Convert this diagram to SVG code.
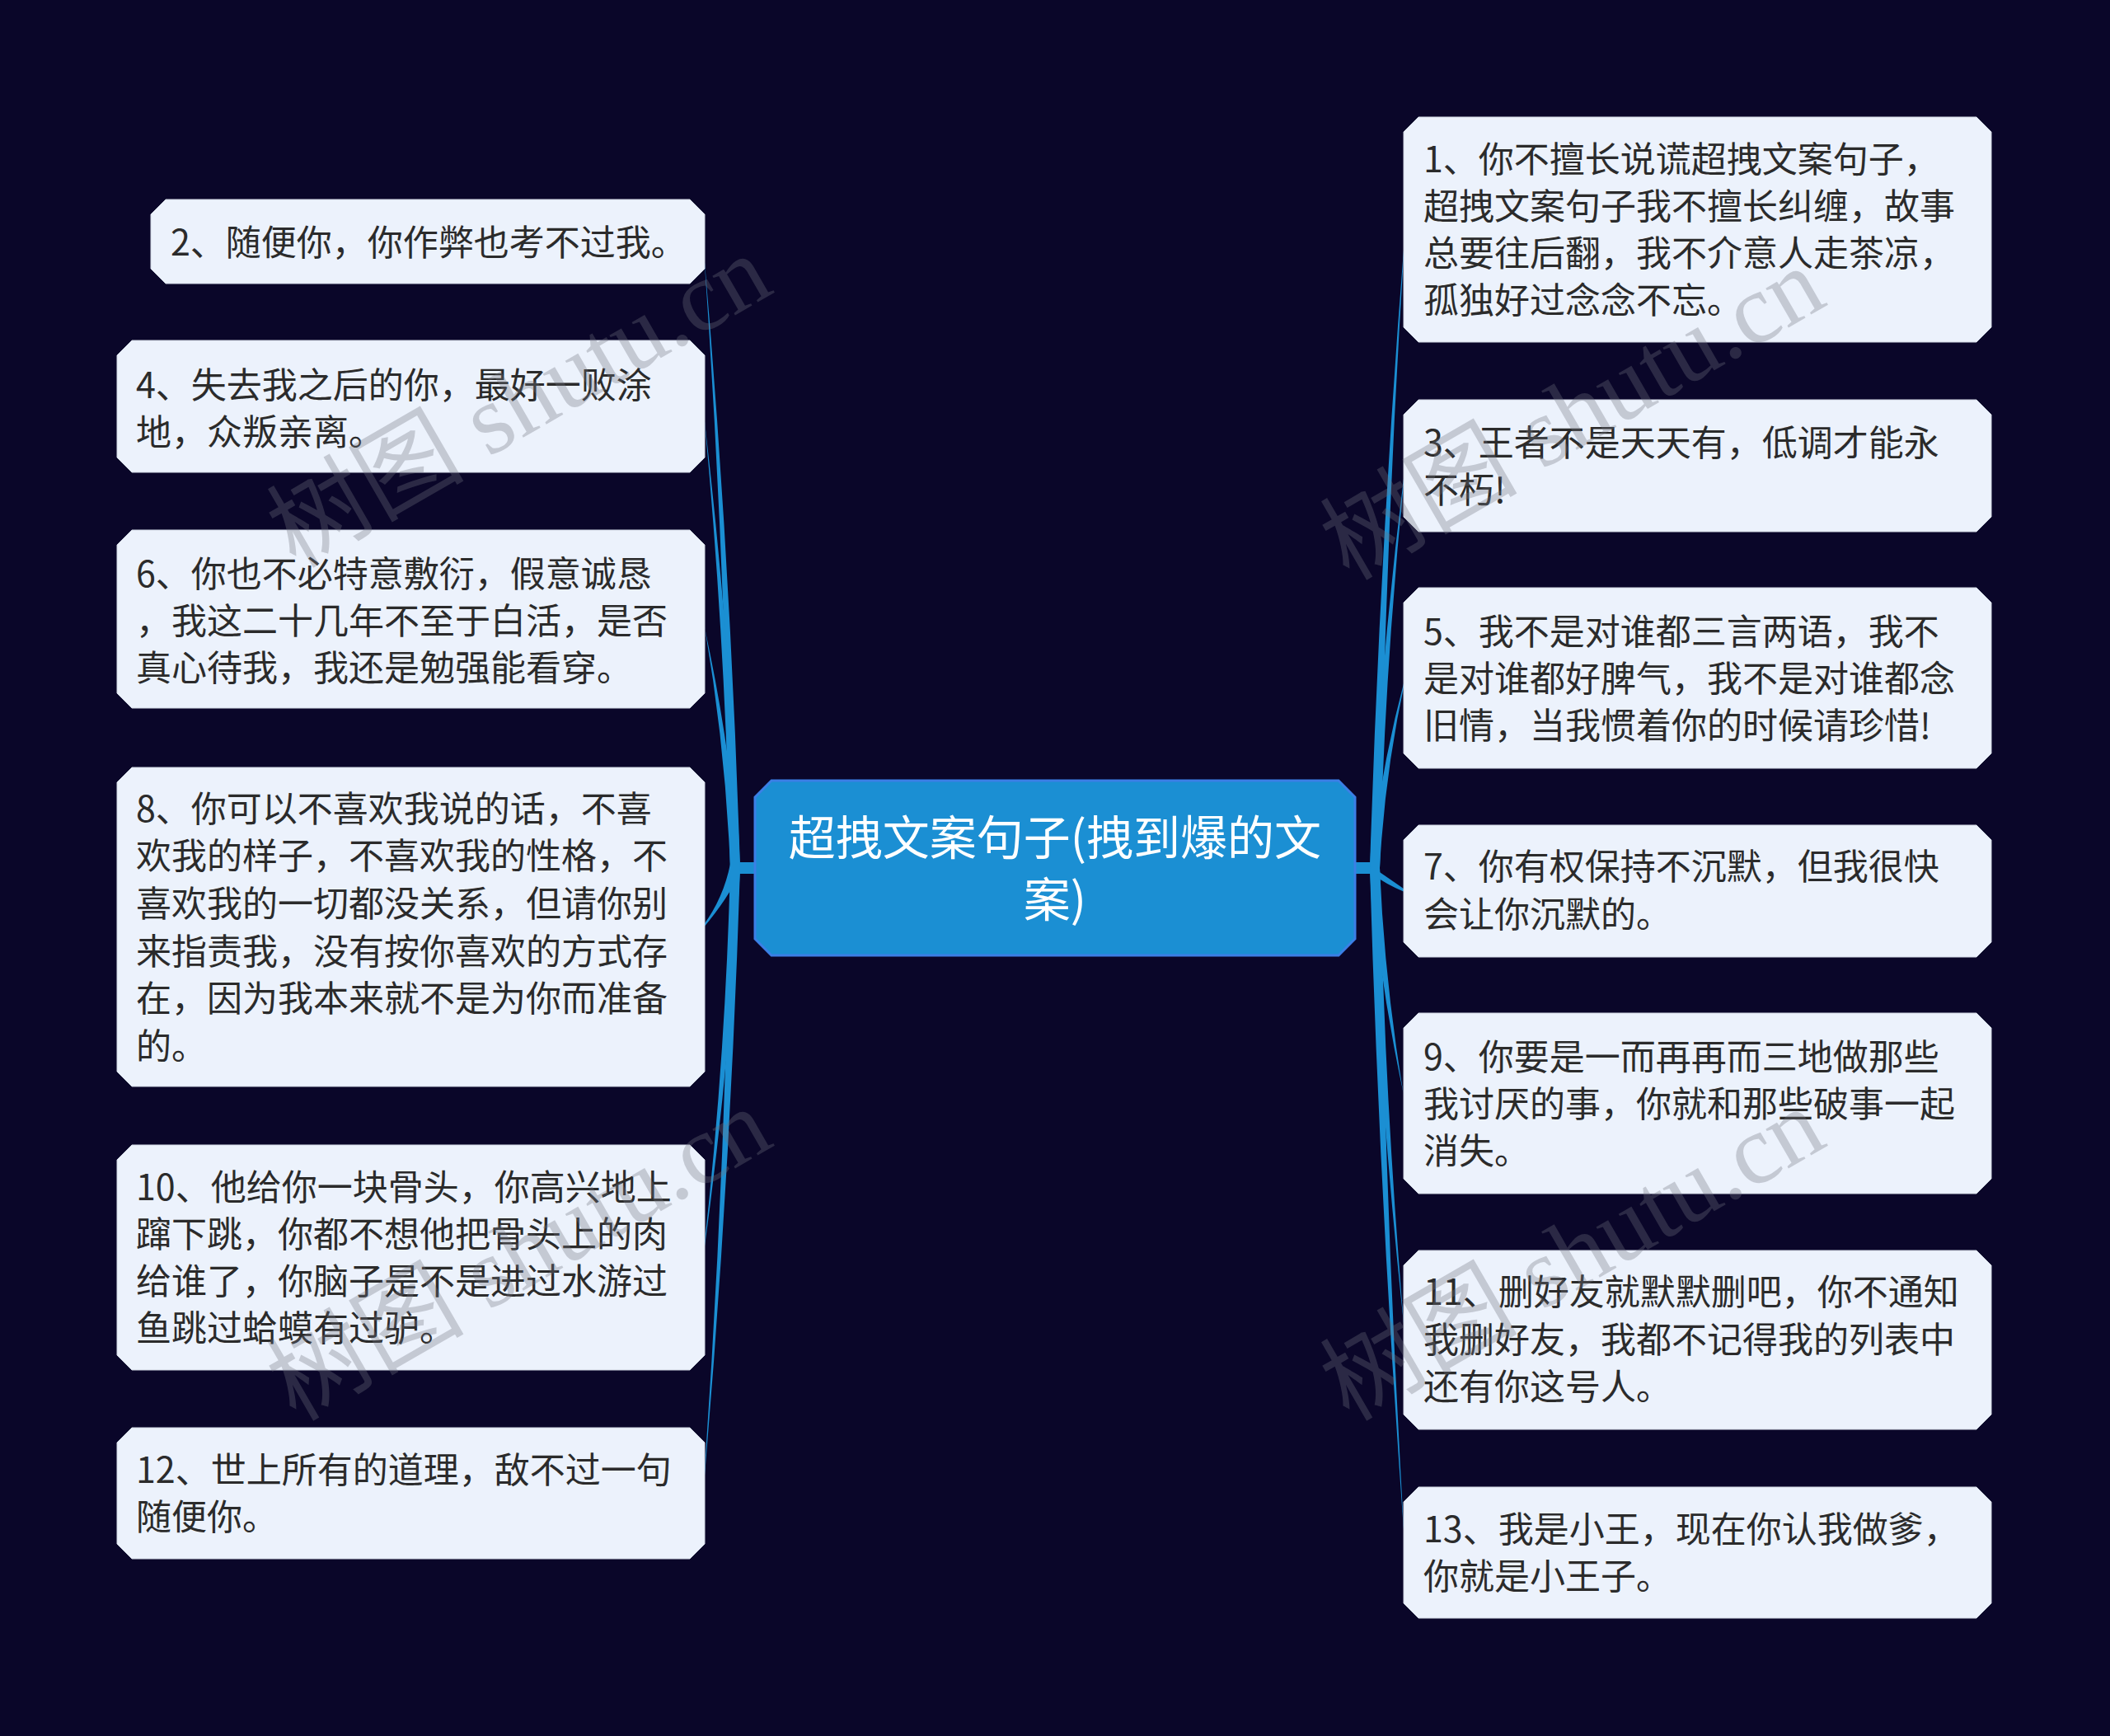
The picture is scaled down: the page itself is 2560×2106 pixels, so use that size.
<svg xmlns="http://www.w3.org/2000/svg" width="2560" height="2106" viewBox="0 0 2560 2106">
<style>
.bg{fill:#0a0629}
.node{fill:#ecf2fc;stroke:#d0d6e2;stroke-width:1}
.root{fill:#1b8fd3;stroke:#3b7fe6;stroke-width:3}
.t{font-family:"Noto Sans CJK SC","Noto Sans",sans-serif;font-size:43px;fill:#2b2b2b}
.rt{font-family:"Noto Sans CJK SC","Noto Sans",sans-serif;font-size:57px;fill:#ffffff;text-anchor:middle}
.link{fill:#1b8fd3}
.wm{font-family:"Liberation Serif","Noto Sans CJK SC",serif;font-size:120px;fill:#717480;opacity:0.32;text-anchor:middle}
</style>
<rect class="bg" x="0" y="0" width="2560" height="2106"/>
<g id="connectors">
<rect class="link" x="888" y="1046" width="32" height="14"/>
<rect class="link" x="1640" y="1046" width="32" height="14"/>
<path class="link" d="M886,1053 Q880,673 853,291.5 L853,294.5 Q886,673 898,1053 Z"/>
<path class="link" d="M886,1053 Q880,773 853,491.5 L853,494.5 Q886,773 898,1053 Z"/>
<path class="link" d="M886,1053 Q880,902 853,749.5 L853,752.5 Q886,902 898,1053 Z"/>
<path class="link" d="M886,1048 Q878,1089 853,1123 L853,1126 Q884,1089 898,1058 Z"/>
<path class="link" d="M886,1053 Q880,1289 853,1524 L853,1527 Q886,1289 898,1053 Z"/>
<path class="link" d="M886,1053 Q880,1432 853,1810 L853,1813 Q886,1432 898,1053 Z"/>
<path class="link" d="M1662,1053 Q1674,666 1705,277 L1705,280 Q1680,666 1674,1053 Z"/>
<path class="link" d="M1662,1053 Q1674,809 1705,563.5 L1705,566.5 Q1680,809 1674,1053 Z"/>
<path class="link" d="M1662,1053 Q1674,938 1705,821 L1705,824 Q1680,938 1674,1053 Z"/>
<path class="link" d="M1662,1050 Q1680,1062 1705,1079.5 L1705,1082.5 Q1680,1072 1668,1062 Z"/>
<path class="link" d="M1662,1053 Q1674,1196 1705,1337 L1705,1340 Q1680,1196 1674,1053 Z"/>
<path class="link" d="M1662,1053 Q1674,1339 1705,1624 L1705,1627 Q1680,1339 1674,1053 Z"/>
<path class="link" d="M1662,1053 Q1674,1468 1705,1882 L1705,1885 Q1680,1468 1674,1053 Z"/>
</g>
<g id="root">
<path class="root" d="M936,947 H1624 L1644,967 V1139 L1624,1159 H936 L916,1139 V967 Z"/>
<text class="rt"><tspan x="1280" y="1037">超拽文案句子(拽到爆的文</tspan><tspan x="1280" y="1112">案)</tspan></text>
</g>
<g id="n2">
<path class="node" d="M201,242 H837 L855,260 V326 L837,344 H201 L183,326 V260 Z"/>
<text class="t"><tspan x="207" y="310">2、随便你，你作弊也考不过我。</tspan></text>
</g>
<g id="n4">
<path class="node" d="M160,413 H837 L855,431 V555 L837,573 H160 L142,555 V431 Z"/>
<text class="t"><tspan x="165" y="483">4、失去我之后的你，最好一败涂</tspan><tspan x="165" y="540">地，众叛亲离。</tspan></text>
</g>
<g id="n6">
<path class="node" d="M160,643 H837 L855,661 V841 L837,859 H160 L142,841 V661 Z"/>
<text class="t"><tspan x="165" y="712">6、你也不必特意敷衍，假意诚恳</tspan><tspan x="165" y="769">，我这二十几年不至于白活，是否</tspan><tspan x="165" y="826">真心待我，我还是勉强能看穿。</tspan></text>
</g>
<g id="n8">
<path class="node" d="M160,931 H837 L855,949 V1300 L837,1318 H160 L142,1300 V949 Z"/>
<text class="t"><tspan x="165" y="997">8、你可以不喜欢我说的话，不喜</tspan><tspan x="165" y="1054">欢我的样子，不喜欢我的性格，不</tspan><tspan x="165" y="1112">喜欢我的一切都没关系，但请你别</tspan><tspan x="165" y="1170">来指责我，没有按你喜欢的方式存</tspan><tspan x="165" y="1227">在，因为我本来就不是为你而准备</tspan><tspan x="165" y="1285">的。</tspan></text>
</g>
<g id="n10">
<path class="node" d="M160,1389 H837 L855,1407 V1644 L837,1662 H160 L142,1644 V1407 Z"/>
<text class="t"><tspan x="165" y="1456">10、他给你一块骨头，你高兴地上</tspan><tspan x="165" y="1513">蹿下跳，你都不想他把骨头上的肉</tspan><tspan x="165" y="1570">给谁了，你脑子是不是进过水游过</tspan><tspan x="165" y="1627">鱼跳过蛤蟆有过驴。</tspan></text>
</g>
<g id="n12">
<path class="node" d="M160,1732 H837 L855,1750 V1873 L837,1891 H160 L142,1873 V1750 Z"/>
<text class="t"><tspan x="165" y="1799">12、世上所有的道理，敌不过一句</tspan><tspan x="165" y="1856">随便你。</tspan></text>
</g>
<g id="n1">
<path class="node" d="M1721,142 H2398 L2416,160 V397 L2398,415 H1721 L1703,397 V160 Z"/>
<text class="t"><tspan x="1727" y="209">1、你不擅长说谎超拽文案句子，</tspan><tspan x="1727" y="266">超拽文案句子我不擅长纠缠，故事</tspan><tspan x="1727" y="323">总要往后翻，我不介意人走茶凉，</tspan><tspan x="1727" y="380">孤独好过念念不忘。</tspan></text>
</g>
<g id="n3">
<path class="node" d="M1721,485 H2398 L2416,503 V627 L2398,645 H1721 L1703,627 V503 Z"/>
<text class="t"><tspan x="1727" y="553">3、王者不是天天有，低调才能永</tspan><tspan x="1727" y="610">不朽!</tspan></text>
</g>
<g id="n5">
<path class="node" d="M1721,713 H2398 L2416,731 V914 L2398,932 H1721 L1703,914 V731 Z"/>
<text class="t"><tspan x="1727" y="782">5、我不是对谁都三言两语，我不</tspan><tspan x="1727" y="839">是对谁都好脾气，我不是对谁都念</tspan><tspan x="1727" y="896">旧情，当我惯着你的时候请珍惜!</tspan></text>
</g>
<g id="n7">
<path class="node" d="M1721,1001 H2398 L2416,1019 V1143 L2398,1161 H1721 L1703,1143 V1019 Z"/>
<text class="t"><tspan x="1727" y="1067">7、你有权保持不沉默，但我很快</tspan><tspan x="1727" y="1125">会让你沉默的。</tspan></text>
</g>
<g id="n9">
<path class="node" d="M1721,1229 H2398 L2416,1247 V1430 L2398,1448 H1721 L1703,1430 V1247 Z"/>
<text class="t"><tspan x="1727" y="1298">9、你要是一而再再而三地做那些</tspan><tspan x="1727" y="1355">我讨厌的事，你就和那些破事一起</tspan><tspan x="1727" y="1412">消失。</tspan></text>
</g>
<g id="n11">
<path class="node" d="M1721,1517 H2398 L2416,1535 V1716 L2398,1734 H1721 L1703,1716 V1535 Z"/>
<text class="t"><tspan x="1727" y="1583">11、删好友就默默删吧，你不通知</tspan><tspan x="1727" y="1641">我删好友，我都不记得我的列表中</tspan><tspan x="1727" y="1698">还有你这号人。</tspan></text>
</g>
<g id="n13">
<path class="node" d="M1721,1804 H2398 L2416,1822 V1945 L2398,1963 H1721 L1703,1945 V1822 Z"/>
<text class="t"><tspan x="1727" y="1871">13、我是小王，现在你认我做爹，</tspan><tspan x="1727" y="1928">你就是小王子。</tspan></text>
</g>
<g id="watermark">
<text class="wm" transform="translate(650,522) rotate(-30)">树图 shutu.cn</text>
<text class="wm" transform="translate(1928,537) rotate(-30)">树图 shutu.cn</text>
<text class="wm" transform="translate(650,1557) rotate(-30)">树图 shutu.cn</text>
<text class="wm" transform="translate(1928,1557) rotate(-30)">树图 shutu.cn</text>
</g>
</svg>
